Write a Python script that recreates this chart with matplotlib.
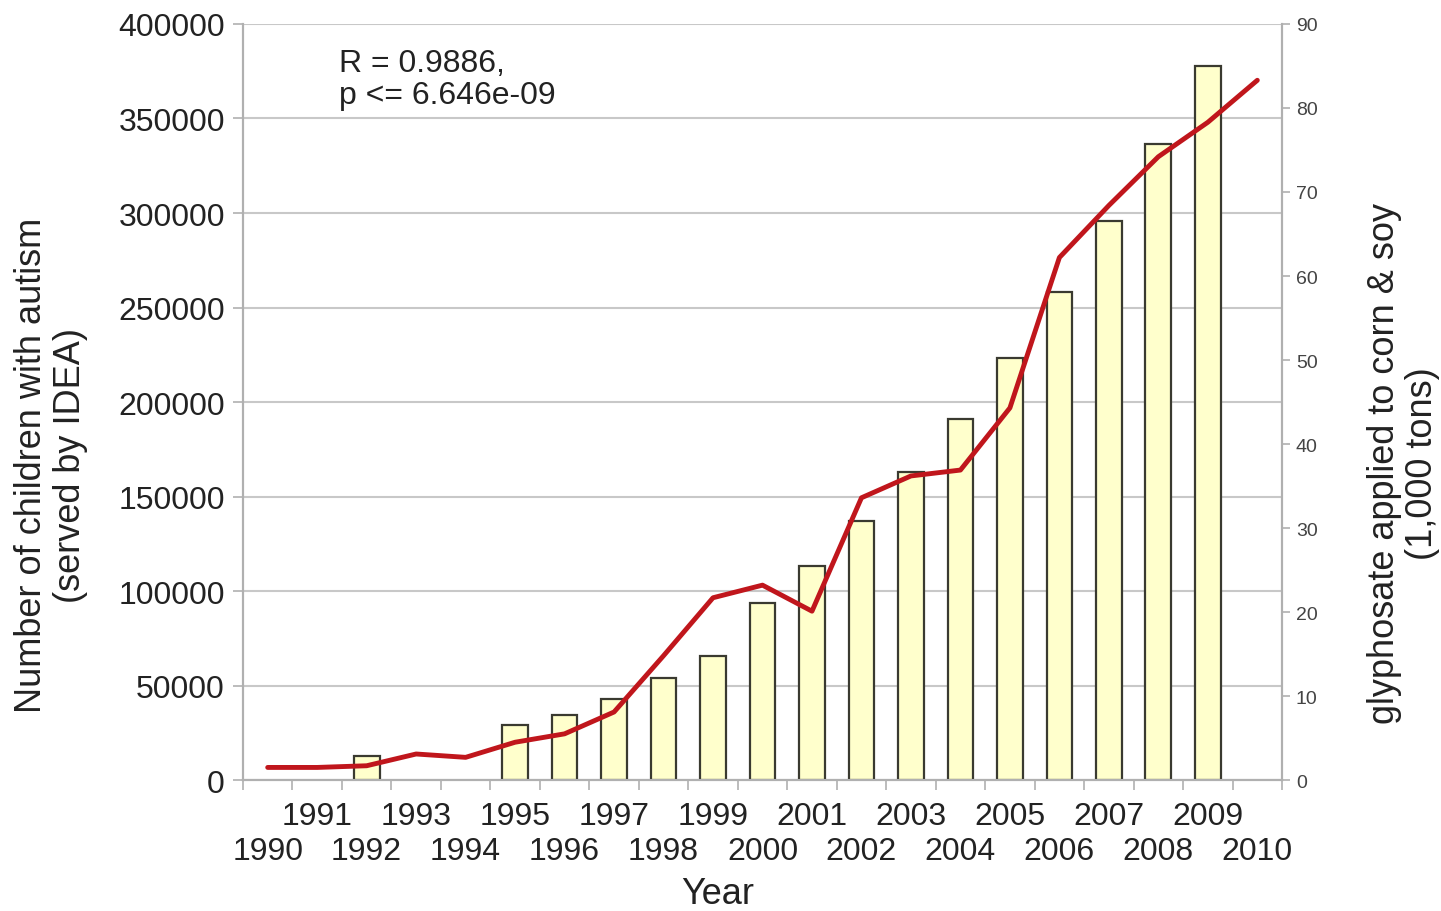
import numpy as np
import matplotlib
matplotlib.use("Agg")
import matplotlib.pyplot as plt

plt.rcParams['font.family'] = ['Liberation Sans', 'DejaVu Sans']

# data
years = list(range(1990, 2011))
autism = [None, None, 12500, None, None, 29000, 34400, 42900, 54000, 65600,
          93700, 113500, 136800, 163000, 191000, 223500, 258000, 296000,
          336500, 378000, None]
glyphosate = [1.5, 1.5, 1.7, 3.1, 2.7, 4.5, 5.5, 8.1, 14.8, 21.7,
              23.2, 20.1, 33.6, 36.2, 36.9, 44.3, 62.2, 68.4, 74.2, 78.3, 83.3]

annot_text = "R = 0.9886,\np <= 6.646e-09"
left_label = "Number of children with autism\n(served by IDEA)"
right_label = "glyphosate applied to corn & soy\n(1,000 tons)"

grid_col = '#c8c8c8'
spine_col = '#b0b0b0'
text_col = '#222222'

fig = plt.figure(figsize=(14.41, 9.12), dpi=100)
ax = fig.add_axes([0.1686, 0.1436, 0.7211, 0.8290])

bx = [y for y, v in zip(years, autism) if v is not None]
bv = [v for v in autism if v is not None]
ax.bar(bx, bv, width=0.52, color='#ffffcc', edgecolor='#3a3a30', linewidth=1.6, zorder=3)

ax.set_xlim(1989.5, 2010.5)
ax.set_ylim(0, 400000)
ax.set_yticks(np.arange(0, 400001, 50000))
ax.yaxis.grid(True, color=grid_col, linewidth=1.5, zorder=0)
ax.set_axisbelow(True)

# staggered year labels: odd years on the top row, even years below,
# tick marks sit between the categories
odd = [y for y in years if y % 2]
even = [y for y in years if y % 2 == 0]
ax.set_xticks(odd)
ax.set_xticklabels([str(y) for y in odd])
ax.set_xticks(np.arange(1989.5, 2010.6, 1), minor=True)
ax.tick_params(axis='x', which='major', length=0, pad=15, labelsize=23, colors=text_col)
ax.tick_params(axis='x', which='minor', length=7, color=spine_col, width=1.2)
ax.tick_params(axis='y', length=7, color=spine_col, width=1.2, labelsize=23,
               labelcolor=text_col, pad=6)

sec = ax.secondary_xaxis('bottom')
sec.set_xticks(even)
sec.set_xticklabels([str(y) for y in even])
sec.tick_params(axis='x', length=0, pad=40, labelsize=23, colors=text_col)
sec.spines['bottom'].set_visible(False)

for s in ['left', 'bottom', 'right']:
    ax.spines[s].set_color(spine_col)
    ax.spines[s].set_linewidth(1.5)
ax.spines['top'].set_visible(False)

ax.text(0.457, -0.150, "Year", transform=ax.transAxes, fontsize=26,
        color=text_col, ha='center', va='center')
ax.set_ylabel(left_label, fontsize=26, color=text_col, linespacing=1.15)
ax.yaxis.set_label_coords(-0.149, 0.418)

ax.text(0.092, 0.968, annot_text, transform=ax.transAxes, fontsize=23,
        va='top', ha='left', color=text_col, linespacing=1.1)

ax2 = ax.twinx()
ax2.plot(years, glyphosate, color='#c0161c', linewidth=3.5, zorder=5,
         solid_joinstyle='round', solid_capstyle='round')
ax2.set_ylim(0, 90)
ax2.set_yticks(np.arange(0, 91, 10))
ax2.tick_params(axis='y', length=6, color=spine_col, width=1.2, labelsize=14,
                labelcolor='#444444', pad=4)
for s in ['left', 'bottom', 'right']:
    ax2.spines[s].set_color(spine_col)
    ax2.spines[s].set_linewidth(1.5)
ax2.spines['top'].set_visible(False)
ax2.set_ylabel(right_label, fontsize=26, color=text_col, linespacing=1.1, rotation=90)
ax2.yaxis.set_label_coords(1.082, 0.42)

fig.savefig("out.png", dpi=100)
